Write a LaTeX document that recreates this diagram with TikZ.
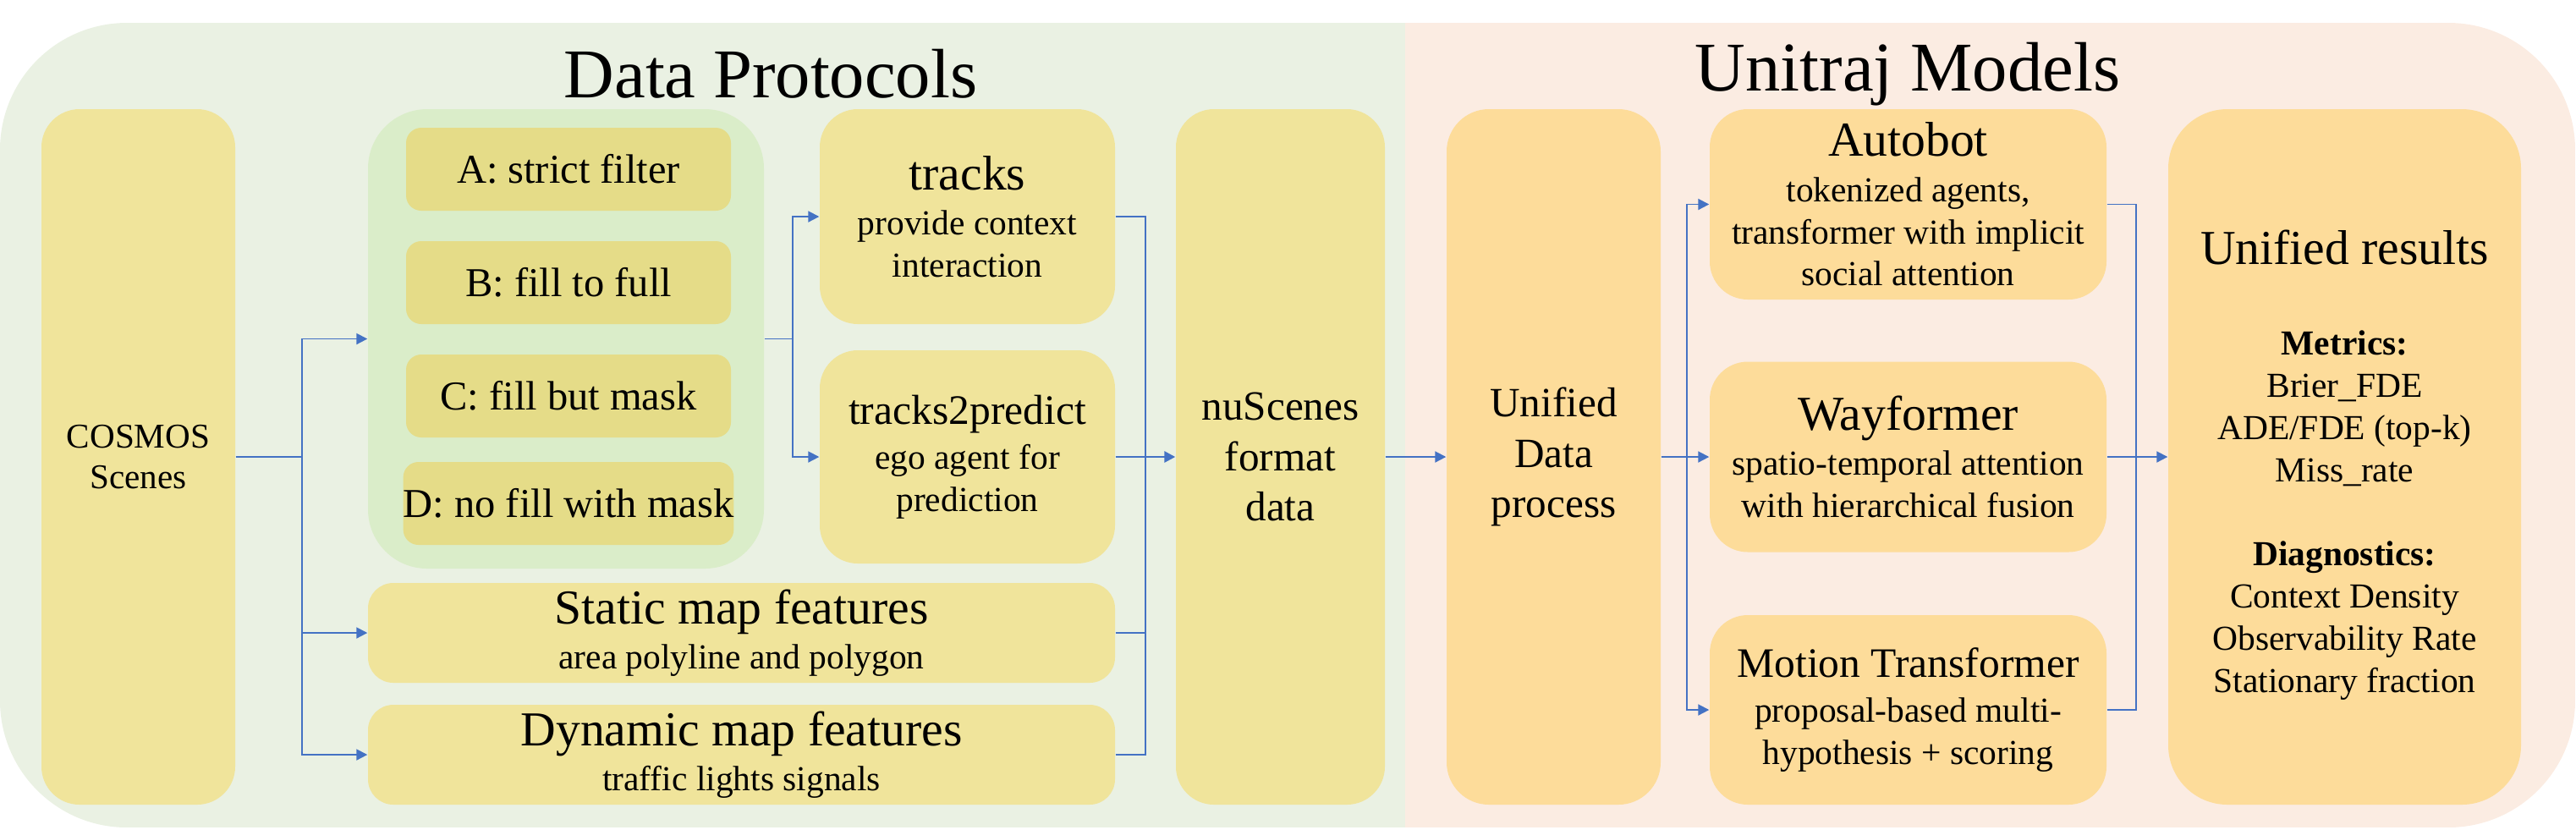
\documentclass[tikz,border=0pt]{standalone}
\usepackage{fontspec}
\setmainfont{Liberation Serif}
\newfontfamily\timesfont{Liberation Serif}
\usetikzlibrary{arrows.meta}

\definecolor{protoBg}{HTML}{EAF1E3}
\definecolor{modelBg}{HTML}{FBECE2}
\definecolor{dataBox}{HTML}{F0E49B}
\definecolor{optBox}{HTML}{E5DC88}
\definecolor{optBg}{HTML}{DAEDC9}
\definecolor{modelBox}{HTML}{FDDC9A}
\definecolor{flowBlue}{HTML}{4472C4}

\newcommand{\titlefont}{\timesfont\fontsize{23.5}{28}\selectfont}
\newcommand{\headfont}{\timesfont\fontsize{16.4}{19.7}\selectfont}
\newcommand{\midfont}{\timesfont\fontsize{14.1}{17}\selectfont}
\newcommand{\subfont}{\timesfont\fontsize{11.8}{14.2}\selectfont}

\tikzset{
	databox/.style={fill=dataBox, rounded corners=0.45cm, inner sep=0pt, align=center, font=\subfont},
	optbox/.style={fill=optBox, rounded corners=0.18cm, inner sep=0pt, minimum width=3.84cm, minimum height=0.98cm, font=\timesfont\fontsize{13.8}{16}\selectfont},
	modelbox/.style={fill=modelBox, rounded corners=0.45cm, inner sep=0pt, align=center, font=\subfont},
	link/.style={flowBlue, line width=0.55pt},
	flow/.style={link, -{Triangle[length=0.13cm,width=0.13cm]}},
}

\begin{document}
\begin{tikzpicture}
		\useasboundingbox (0,0) rectangle (30.45,-9.80);

		\begin{scope}
			\clip[rounded corners=1.5cm] (0,-0.27) rectangle (30.44,-9.78);
			\fill[protoBg] (0,-0.27) rectangle (16.61,-9.78);
			\fill[modelBg] (16.61,-0.27) rectangle (30.44,-9.78);
		\end{scope}

		\node[anchor=base, font=\titlefont] (protoTitle) at (9.11,-1.15) {Data Protocols};
		\node[anchor=base, font=\titlefont] (modelTitle) at (22.55,-1.07) {Unitraj Models};

		\node[databox, minimum width=2.29cm, minimum height=8.22cm, font=\timesfont\fontsize{11.7}{13.7}\selectfont] (cosmos) at (1.635,-5.40) {COSMOS\\Scenes};

		\node[fill=optBg, rounded corners=0.7cm, minimum width=4.68cm, minimum height=5.43cm, inner sep=0pt] (grp) at (6.69,-4.005) {};
		\node[optbox] (optA) at (6.72,-2.00) {A: strict filter};
		\node[optbox] (optB) at (6.72,-3.34) {B: fill to full};
		\node[optbox] (optC) at (6.72,-4.68) {C: fill but mask};
		\node[optbox] (optD) at (6.72,-5.95) {D: no fill with mask};

		\node[databox, minimum width=3.49cm, minimum height=2.54cm] (tracks) at (11.435,-2.56) {{\headfont tracks}\\[1pt]provide context\\interaction};
		\node[databox, minimum width=3.49cm, minimum height=2.52cm] (t2p) at (11.435,-5.40) {{\midfont tracks2predict}\\[1pt]ego agent for\\prediction};
		\node[databox, rounded corners=0.3cm, minimum width=8.83cm, minimum height=1.18cm] (static) at (8.765,-7.48) {{\headfont Static map features}\\[1pt]area polyline and polygon};
		\node[databox, rounded corners=0.3cm, minimum width=8.83cm, minimum height=1.18cm] (dyn) at (8.765,-8.92) {{\headfont Dynamic map features}\\[1pt]traffic lights signals};
		\node[databox, minimum width=2.47cm, minimum height=8.22cm, font=\timesfont\fontsize{14}{17}\selectfont] (nusc) at (15.135,-5.40) {nuScenes\\format\\data};

		\node[modelbox, rounded corners=0.5cm, minimum width=2.53cm, minimum height=8.22cm, font=\timesfont\fontsize{14}{17}\selectfont] (udp) at (18.365,-5.40) {Unified\\Data\\process};
		\node[modelbox, minimum width=4.69cm, minimum height=2.25cm] (autobot) at (22.555,-2.415) {{\headfont Autobot}\\[1pt]tokenized agents,\\transformer with implicit\\social attention};
		\node[modelbox, minimum width=4.69cm, minimum height=2.25cm] (wayf) at (22.555,-5.40) {{\headfont Wayformer}\\[1pt]spatio-temporal attention\\with hierarchical fusion};
		\node[modelbox, minimum width=4.69cm, minimum height=2.24cm] (motion) at (22.555,-8.39) {{\midfont Motion Transformer}\\[1pt]proposal-based multi-\\hypothesis + scoring};
		\node[modelbox, rounded corners=0.7cm, minimum width=4.17cm, minimum height=8.22cm] (res) at (27.715,-5.40) {{\headfont\rule{0pt}{0.6cm}Unified results}\\[0.57cm]\textbf{Metrics:}\\Brier\_FDE\\ADE/FDE (top-k)\\Miss\_rate\\[0.5cm]\textbf{Diagnostics:}\\Context Density\\Observability Rate\\Stationary fraction};

		\coordinate (j1) at ([xshift=0.78cm]cosmos.east);
		\coordinate (j2) at ([xshift=0.33cm]grp.east);
		\coordinate (j3) at ([xshift=-0.35cm]nusc.west);
		\coordinate (j4) at ([xshift=0.30cm]udp.east);
		\coordinate (j5) at ([xshift=-0.37cm]res.west);

		\draw[link, line width=0.8pt] (cosmos.east) -- (j1);
		\draw[flow] (j1) |- (grp.west);
		\draw[flow] (j1) |- (static.west);
		\draw[flow] (j1) |- (dyn.west);

		\draw[link] (grp.east) -- (j2);
		\draw[flow] (j2) |- (tracks.west);
		\draw[flow] (j2) |- (t2p.west);

		\draw[link] (tracks.east) -| (j3);
		\draw[link] (static.east) -| (j3);
		\draw[link] (dyn.east) -| (j3);
		\draw[link, line width=0.8pt] (t2p.east) -- (j3);
		\draw[flow, line width=0.8pt] (j3) -- (nusc.west);

		\draw[flow] (nusc) -- (udp);

		\draw[link, line width=0.8pt] (udp.east) -- (j4);
		\draw[flow] (j4) |- (autobot.west);
		\draw[flow] (j4) |- (wayf.west);
		\draw[flow] (j4) |- (motion.west);

		\draw[link] (autobot.east) -| (j5);
		\draw[link] (wayf.east) -- (j5);
		\draw[link] (motion.east) -| (j5);
		\draw[flow] (j5) -- (res.west);
\end{tikzpicture}
\end{document}
